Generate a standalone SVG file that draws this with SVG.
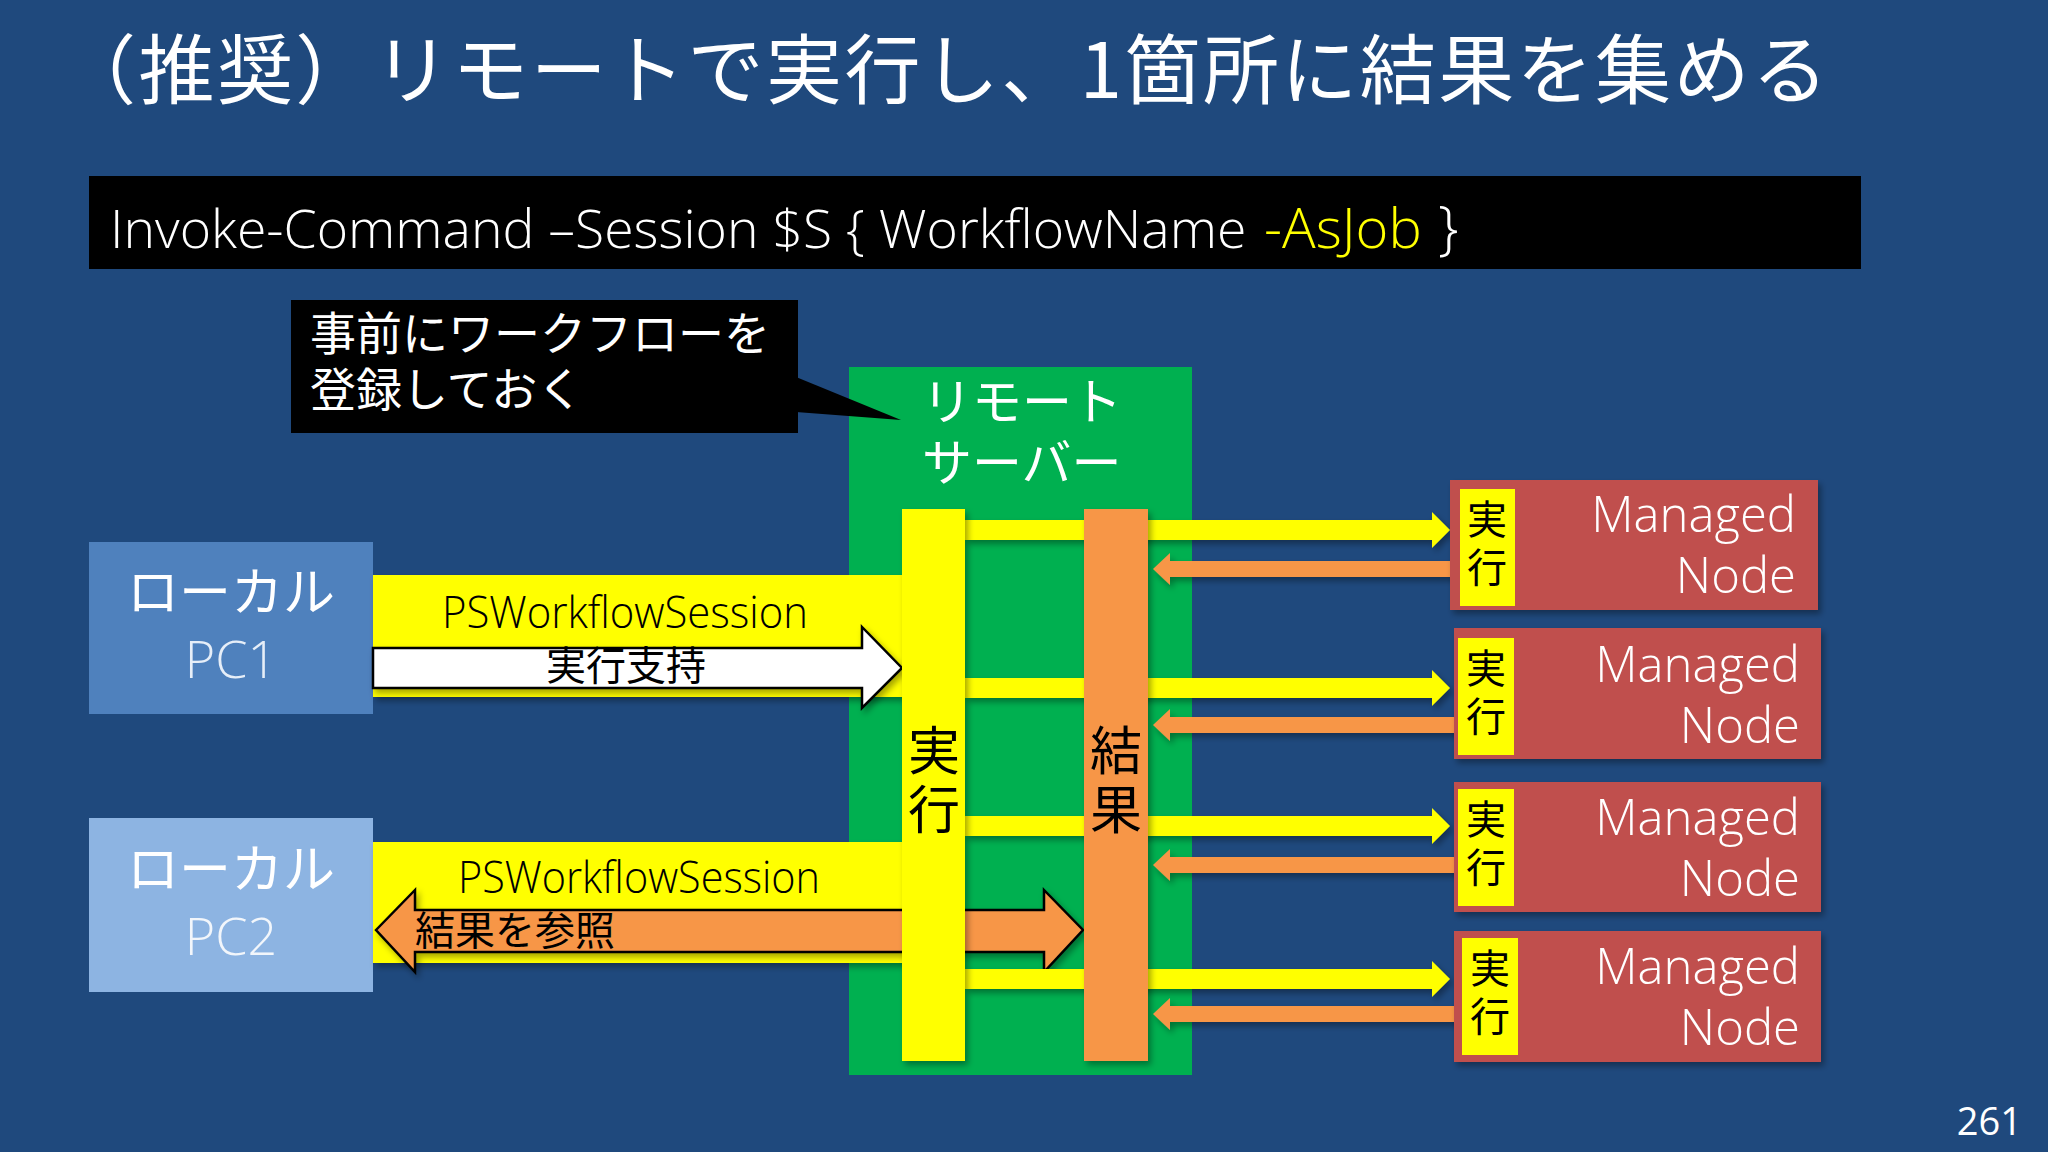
<svg xmlns="http://www.w3.org/2000/svg" width="2048" height="1152" viewBox="0 0 2048 1152">
<style>
.jp{font-family:"Noto Sans CJK JP","Noto Sans",sans-serif;font-weight:400}
.jp2{font-family:"Liberation Sans","Noto Sans CJK JP",sans-serif;font-weight:400}
.lat{font-family:"Open Sans","Noto Sans CJK JP",sans-serif;font-weight:300}
.w{fill:#FFFFFF}
.k{fill:#000000}
.yel{fill:#FFFF00}
.org{fill:#F79646}
.node{fill:#C0504D}
.lbl{fill:#FFFF00}
.vt{writing-mode:vertical-rl;text-orientation:upright}
</style>
<defs>
<filter id="sh" x="-10%" y="-10%" width="130%" height="140%">
<feDropShadow dx="3" dy="4" stdDeviation="3" flood-color="#000" flood-opacity="0.35"/>
</filter>
</defs>
<rect width="2048" height="1152" fill="#1F497D"/>

<text class="jp w" x="60" y="98" font-size="76" textLength="1768" lengthAdjust="spacing">（推奨）リモートで実行し、1箇所に結果を集める</text>

<g id="code">
<rect x="89" y="176" width="1772" height="93" fill="#000"/>
<text class="lat w" x="110" y="248" font-size="53.5">Invoke-Command –Session $S { WorkflowName</text>
<text class="lat" x="1264" y="248" font-size="56" fill="#FFFF00">-AsJob</text>
<text class="lat w" x="1438" y="248" font-size="58">}</text>
</g>

<g id="remote-server">
<rect x="849" y="367" width="343" height="708" fill="#00B050"/>
<text class="jp2 w" x="922" y="420" font-size="50">リモート</text>
<text class="jp2 w" x="922" y="481" font-size="50">サーバー</text>
</g>

<g id="callout">
<rect x="291" y="300" width="507" height="133" fill="#000"/>
<polygon points="796,377 901,420 796,412" fill="#000"/>
<text class="jp2 w" x="310" y="350" font-size="46">事前にワークフローを</text>
<text class="jp2 w" x="310" y="406" font-size="46">登録しておく</text>
</g>

<g id="local-pc1">
<rect x="89" y="542" width="284" height="172" fill="#4F81BD"/>
<text class="jp2 w" x="231" y="611" font-size="52" text-anchor="middle">ローカル</text>
<text class="lat" x="231" y="678" font-size="52" text-anchor="middle" fill="#E6EEF8">PC1</text>
</g>

<g id="local-pc2">
<rect x="89" y="818" width="284" height="174" fill="#8DB4E2"/>
<text class="jp2 w" x="231" y="888" font-size="52" text-anchor="middle">ローカル</text>
<text class="lat" x="231" y="955" font-size="52" text-anchor="middle" fill="#F2F6FB">PC2</text>
</g>

<g id="connectors">
<rect x="373" y="575" width="530" height="122" class="yel" filter="url(#sh)"/>
<rect x="373" y="842" width="530" height="121" class="yel" filter="url(#sh)"/>
<polygon points="376,930 415,890 415,910 1044,910 1044,890 1083,930 1044,972 1044,952 415,952 415,972" class="org" stroke="#000" stroke-width="2.5" filter="url(#sh)"/>
<g class="yel" filter="url(#sh)">
<polygon points="965,520 1432,520 1432,512 1450,530 1432,548 1432,540 965,540"/>
<polygon points="965,678 1432,678 1432,670 1450,688 1432,706 1432,698 965,698"/>
<polygon points="965,816 1432,816 1432,808 1450,826 1432,844 1432,836 965,836"/>
<polygon points="965,969 1432,969 1432,961 1450,979 1432,997 1432,989 965,989"/>
</g>
<polygon points="373,648 862,648 862,627 902,668 862,708 862,688 373,688" fill="#FFFFFF" stroke="#000" stroke-width="2.5" filter="url(#sh)"/>
</g>

<g id="exec-bar">
<rect x="902" y="509" width="63" height="552" class="yel" filter="url(#sh)"/>
<text class="jp k vt" x="934" y="783" font-size="52" text-anchor="middle" letter-spacing="7">実行</text>
</g>

<g id="result-bar">
<rect x="1084" y="509" width="64" height="552" class="org" filter="url(#sh)"/>
<text class="jp k vt" x="1116" y="783" font-size="52" text-anchor="middle" letter-spacing="7">結果</text>
</g>

<g id="result-arrows" class="org" filter="url(#sh)">
<polygon points="1458,561 1170,561 1170,553 1153,569 1170,585 1170,577 1458,577"/>
<polygon points="1458,717 1170,717 1170,709 1153,725 1170,741 1170,733 1458,733"/>
<polygon points="1458,857 1170,857 1170,849 1153,865 1170,881 1170,873 1458,873"/>
<polygon points="1458,1006 1170,1006 1170,998 1153,1014 1170,1030 1170,1022 1458,1022"/>
</g>

<g id="labels-text">
<text class="lat k" x="625" y="628" font-size="44" text-anchor="middle" textLength="366" lengthAdjust="spacingAndGlyphs">PSWorkflowSession</text>
<text class="jp2 k" x="626" y="680" font-size="40" text-anchor="middle">実行支持</text>
<text class="lat k" x="639" y="893" font-size="44" text-anchor="middle" textLength="362" lengthAdjust="spacingAndGlyphs">PSWorkflowSession</text>
<text class="jp2 k" x="415" y="945" font-size="40">結果を参照</text>
</g>

<g id="node1">
<rect x="1450" y="480" width="368" height="130" class="node" filter="url(#sh)"/>
<rect x="1460" y="489" width="55" height="117" class="lbl"/>
<text class="jp k vt" x="1487" y="547" font-size="40" text-anchor="middle" letter-spacing="8">実行</text>
<text class="lat w" x="1796" y="532" font-size="49" text-anchor="end">Managed</text>
<text class="lat w" x="1796" y="593" font-size="49" text-anchor="end">Node</text>
</g>
<g id="node2">
<rect x="1454" y="628" width="367" height="131" class="node" filter="url(#sh)"/>
<rect x="1458" y="638" width="56" height="117" class="lbl"/>
<text class="jp k vt" x="1486" y="696" font-size="40" text-anchor="middle" letter-spacing="8">実行</text>
<text class="lat w" x="1800" y="682" font-size="49" text-anchor="end">Managed</text>
<text class="lat w" x="1800" y="743" font-size="49" text-anchor="end">Node</text>
</g>
<g id="node3">
<rect x="1454" y="782" width="367" height="130" class="node" filter="url(#sh)"/>
<rect x="1458" y="789" width="56" height="117" class="lbl"/>
<text class="jp k vt" x="1486" y="847" font-size="40" text-anchor="middle" letter-spacing="8">実行</text>
<text class="lat w" x="1800" y="835" font-size="49" text-anchor="end">Managed</text>
<text class="lat w" x="1800" y="896" font-size="49" text-anchor="end">Node</text>
</g>
<g id="node4">
<rect x="1454" y="931" width="367" height="131" class="node" filter="url(#sh)"/>
<rect x="1462" y="938" width="56" height="117" class="lbl"/>
<text class="jp k vt" x="1490" y="996" font-size="40" text-anchor="middle" letter-spacing="8">実行</text>
<text class="lat w" x="1800" y="984" font-size="49" text-anchor="end">Managed</text>
<text class="lat w" x="1800" y="1045" font-size="49" text-anchor="end">Node</text>
</g>

<text x="2022" y="1135" font-size="38" text-anchor="end" fill="#FFFFFF" font-family="'Open Sans','Liberation Sans',sans-serif">261</text>
</svg>
